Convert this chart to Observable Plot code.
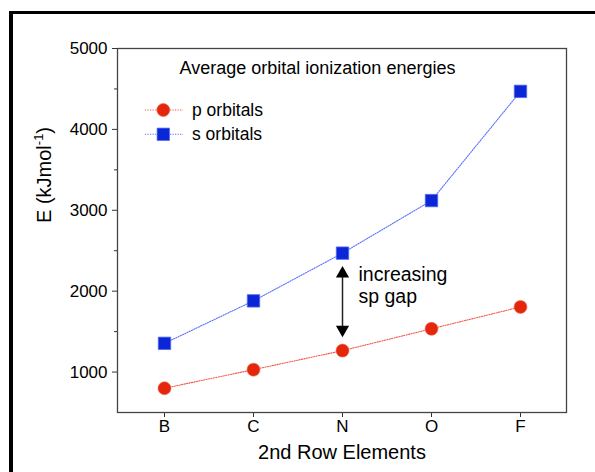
<!DOCTYPE html>
<html><head><meta charset="utf-8">
<script src="https://cdn.jsdelivr.net/npm/d3@7"></script>
<script src="https://cdn.jsdelivr.net/npm/@observablehq/plot@0.6"></script>
<style>
html,body{margin:0;padding:0;background:#fff;}
#wrap{position:relative;width:595px;height:472px;overflow:hidden;background:#fff;}
#wrap svg{position:absolute;left:0;top:0;}
#border{position:absolute;left:9px;top:11px;width:700px;height:600px;border-top:3px solid #000;border-left:4px solid #000;pointer-events:none;}
</style></head><body>
<div id="wrap"><div id="border"></div></div>
<script>
const elements = ["B", "C", "N", "O", "F"];
const pOrbitals = [800, 1030, 1265, 1535, 1805];
const sOrbitals = [1355, 1880, 2470, 3120, 4470];
const seriesNames = ["p orbitals", "s orbitals"];
const yTicks = [1000, 2000, 3000, 4000, 5000];
const yMinorTicks = [1500, 2500, 3500, 4500];
const yDomain = [500, 5000];
const title = "Average orbital ionization energies";
const xLabel = "2nd Row Elements";
const yLabelMain = "E (kJmol";
const yLabelSup = "-1";
const yLabelEnd = ")";
const gapLabel = "increasing\nsp gap";
const gapElement = "N";
const gapTop = 2310;
const gapBottom = 1430;

const pColor = "#e4260c", pLine = "#f05a46";
const sColor = "#0a26d6", sLine = "#5a70ff";
const font = "'Liberation Sans', Arial, Helvetica, sans-serif";

const pData = elements.map((e, i) => ({element: e, value: pOrbitals[i]}));
const sData = elements.map((e, i) => ({element: e, value: sOrbitals[i]}));
const gap = [{element: gapElement, top: gapTop, bottom: gapBottom, label: gapLabel}];

const svg = Plot.plot({
  width: 595, height: 472,
  marginLeft: 117, marginRight: 29, marginTop: 48, marginBottom: 60,
  style: {fontFamily: font, background: "transparent", color: "#000"},
  x: {type: "point", domain: elements, padding: 0.5, axis: null},
  y: {domain: yDomain, axis: null},
  marks: [
    Plot.axisY({ticks: yTicks, tickSize: 5, tickPadding: 5, fontSize: 17, tickFormat: "d", label: null, stroke: "#333"}),
    Plot.axisY({ticks: yMinorTicks, tickSize: 3, tickFormat: () => "", label: null, stroke: "#333"}),
    Plot.axisX({tickSize: 5, tickPadding: 2, fontSize: 17, label: null, stroke: "#333"}),
    Plot.frame({stroke: "#444", strokeWidth: 1.3}),
    Plot.line(pData, {x: "element", y: "value", stroke: pLine, strokeWidth: 1.1, strokeDasharray: "1.2,1.3"}),
    Plot.line(sData, {x: "element", y: "value", stroke: sLine, strokeWidth: 1.1, strokeDasharray: "1.2,1.3"}),
    Plot.dot(pData, {x: "element", y: "value", symbol: "circle", r: 6.5, fill: pColor, stroke: "#f06a50", strokeWidth: 0.6}),
    Plot.dot(sData, {x: "element", y: "value", symbol: "square", r: 7, fill: sColor, stroke: "#5068f0", strokeWidth: 0.8}),
    Plot.ruleX(gap, {x: "element", y1: "top", y2: "bottom", stroke: "#222", strokeWidth: 1.5, insetTop: 4, insetBottom: 4}),
    Plot.dot(gap, {x: "element", y: "top", symbol: "triangle", r: 4.9, fill: "#000", stroke: "none", dy: 7.6}),
    Plot.dot(gap, {x: "element", y: "bottom", symbol: "triangle", rotate: 180, r: 4.9, fill: "#000", stroke: "none", dy: -7.6}),
    Plot.text(gap, {x: "element", y: "top", text: "label", textAnchor: "start", lineAnchor: "top", dx: 16, dy: 0, fontSize: 19.5, lineHeight: 1.1, fill: "#000"}),
    Plot.text([title], {frameAnchor: "top", text: d => d, fontSize: 18, dx: -24.5, dy: 19.7, lineAnchor: "middle", fill: "#000"}),
    Plot.text([xLabel], {frameAnchor: "bottom", text: d => d, fontSize: 20, dy: 40, lineAnchor: "middle", fill: "#000"}),
    Plot.text([yLabelMain], {frameAnchor: "left", text: d => d, rotate: -90, fontSize: 20, dx: -73, dy: -7.5, lineAnchor: "middle", fill: "#000"})
  ]
});

const wrap = document.getElementById("wrap");
wrap.insertBefore(svg, document.getElementById("border"));

// superscript in y label
const ylNode = Array.from(svg.querySelectorAll("text")).find(t => t.textContent === yLabelMain);
if (ylNode) {
  const yl = d3.select(ylNode);
  yl.append("tspan").attr("font-size", 13).attr("dy", -8).text(yLabelSup);
  yl.append("tspan").attr("font-size", 20).attr("dy", 8).text(yLabelEnd);
}

// legend
const legend = d3.select(svg).append("g").attr("font-family", font).attr("font-size", 17.5).attr("text-anchor", "start");
const legendItems = [
  {name: seriesNames[0], color: pColor, line: pLine, symbol: d3.symbolCircle, r: 6.5, stroke: "#f06a50"},
  {name: seriesNames[1], color: sColor, line: sLine, symbol: d3.symbolSquare, r: 7, stroke: "#5068f0"}
];
legendItems.forEach((it, i) => {
  const y = 110 + i * 24.3;
  legend.append("line").attr("x1", 145).attr("x2", 183).attr("y1", y).attr("y2", y)
    .attr("stroke", it.line).attr("stroke-width", 1.1).attr("stroke-dasharray", "1.2,1.3");
  legend.append("path").attr("transform", `translate(163.3,${y})`)
    .attr("d", d3.symbol(it.symbol, it.r * it.r * Math.PI)())
    .attr("fill", it.color).attr("stroke", it.stroke).attr("stroke-width", 0.7);
  legend.append("text").attr("x", 192).attr("y", y).attr("dy", "0.35em").attr("fill", "#000").attr("text-anchor", "start").text(it.name);
});
</script>
</body></html>
